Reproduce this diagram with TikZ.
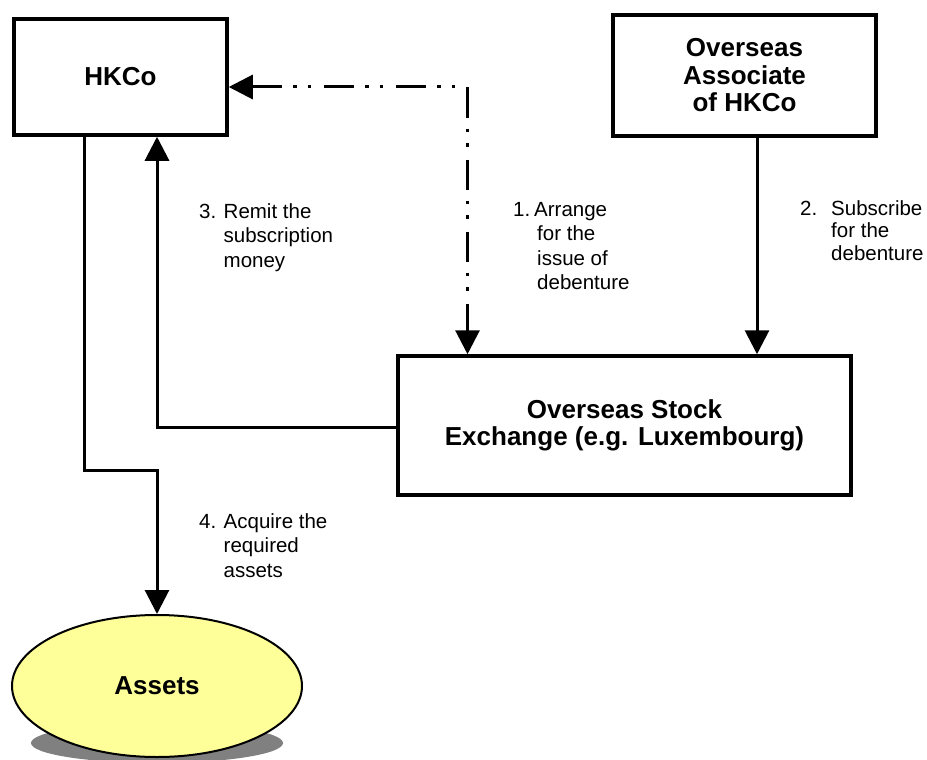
\documentclass[tikz,border=0pt]{standalone}
\usepackage{fontspec}
\setmainfont{Liberation Sans}
\usetikzlibrary{arrows.meta,shapes.geometric}
\definecolor{assetyellow}{HTML}{FFFF99}
\definecolor{shadowgray}{HTML}{808080}
\begin{document}
\begin{tikzpicture}[x=1pt,y=-1pt,
  boxnode/.style={draw,line width=3.5pt,inner sep=0pt,align=center,
    font=\fontsize{26}{27.5}\selectfont\bfseries},
  conn/.style={line width=3pt},
  tipend/.style={-{Triangle[length=24pt,width=24pt]}},
  bothend/.style={{Triangle[length=24pt,width=24pt]}-{Triangle[length=24pt,width=24pt]}},
  dashdotdot/.style={dash pattern=on 30pt off 11pt on 3.5pt off 11pt on 3.5pt off 13pt},
  numlbl/.style={anchor=base west,inner sep=0pt,font=\fontsize{20.5}{24.5}\selectfont},
  txtlbl/.style={anchor=base west,inner sep=0pt,font=\fontsize{20.5}{24.5}\selectfont}]
\useasboundingbox (0,0) rectangle (927,760);

% boxes
\node[boxnode,minimum width=213pt,minimum height=116pt] (hk) at (120.5,77) {HKCo};
\node[boxnode,minimum width=263pt,minimum height=121pt] (as) at (744.5,75.5) {Overseas\\Associate\\of HKCo};
\node[boxnode,minimum width=453pt,minimum height=139pt] (ex) at (624.5,425.5) {Overseas Stock\\Exchange (e.g. Luxembourg)};

% assets ellipse with shadow
\fill[shadowgray] (157,743) ellipse [x radius=126, y radius=20];
\node[ellipse,draw,line width=2pt,fill=assetyellow,minimum width=290pt,minimum height=142pt,
  inner sep=0pt,font=\fontsize{26}{28}\selectfont\bfseries] (at) at (157,686) {Assets};

% helper coordinates
\coordinate (dd) at (467.5,87);
\coordinate (a2) at (757,0);
\coordinate (c3) at (157,427);
\coordinate (c4a) at (84,470);
\coordinate (c4b) at (157,470);

% connectors
\draw[conn,bothend,dashdotdot] (hk.east |- dd) -- (dd) -- (dd |- ex.north);
\draw[conn,tipend] (as.south -| a2) -- (ex.north -| a2);
\draw[conn,tipend] (ex.west |- c3) -- (c3) -- (hk.south -| c3);
\draw[conn,tipend] (hk.south -| c4a) -- (c4a) -- (c4b) -- (at.north -| c4b);

% labels
\node[numlbl] (n3) at (199,218) {3.};
\node[txtlbl] (t3) at (223.5,218) {\begin{tabular}[t]{@{}l@{}}Remit the\\subscription\\money\end{tabular}};

\node[numlbl] (n1) at (513,216) {1.};
\node[txtlbl] (t1) at (537,216) {\begin{tabular}[t]{@{}l@{}}\hspace{-3pt}Arrange\\for the\\issue of\\debenture\end{tabular}};

\node[numlbl] (n2) at (800,215) {2.};
\node[txtlbl,font=\fontsize{20.5}{22.5}\selectfont] (t2) at (831,215) {\begin{tabular}[t]{@{}l@{}}Subscribe\\for the\\debenture\end{tabular}};

\node[numlbl] (n4) at (199,528) {4.};
\node[txtlbl] (t4) at (223.5,528) {\begin{tabular}[t]{@{}l@{}}Acquire the\\required\\assets\end{tabular}};
\end{tikzpicture}
\end{document}
